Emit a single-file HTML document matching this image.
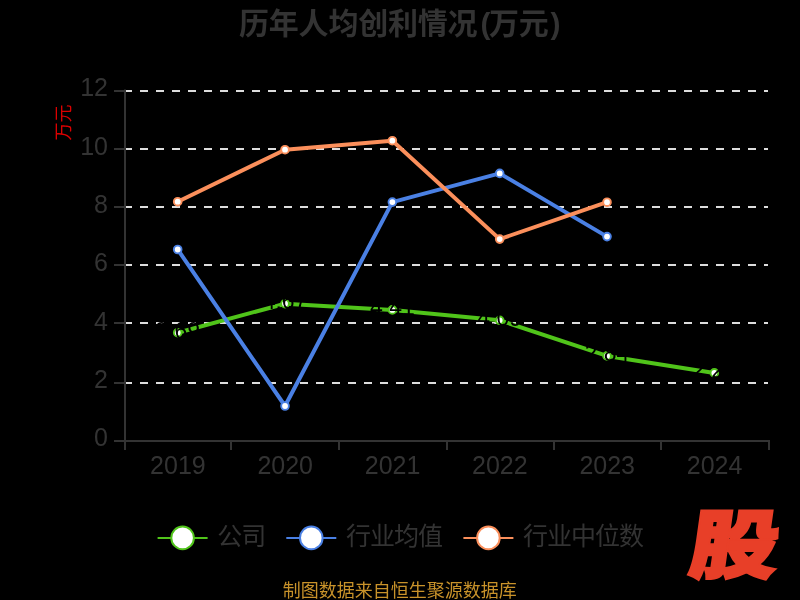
<!DOCTYPE html>
<html lang="zh-CN">
<head>
<meta charset="utf-8">
<title>历年人均创利情况(万元)</title>
<style>
html,body{margin:0;padding:0;background:#000;}
body{width:800px;height:600px;overflow:hidden;position:relative;font-family:"Liberation Sans","Noto Sans CJK SC",sans-serif;}
svg{position:absolute;left:0;top:0;display:block;}
text{font-family:"Liberation Sans","Noto Sans CJK SC",sans-serif;}
.title{font-size:30px;font-weight:bold;fill:#333;letter-spacing:-0.2px;}
.ax{font-size:25px;fill:#333;}
.lg{font-size:25px;letter-spacing:-1px;fill:#333;}
.unit{font-size:18px;fill:#dc0000;}
.foot{font-size:18px;fill:#c8922a;}
.dl{font-size:23px;fill:#000;}
.logo{font-family:"Noto Sans CJK SC","Liberation Sans",sans-serif;font-weight:900;font-size:74.5px;fill:#e83f28;stroke:#e83f28;stroke-width:3px;paint-order:stroke fill;stroke-linejoin:miter;}
</style>
</head>
<body>
<svg width="800" height="600" viewBox="0 0 800 600">
<rect x="0" y="0" width="800" height="600" fill="#000"/>
<text class="title" x="239" y="33.6" text-anchor="start">历年人均创利情况<tspan dx="3.2">(</tspan><tspan dx="-1.5">万元</tspan><tspan dx="2.1">)</tspan></text>
<line x1="124" y1="383" x2="768" y2="383" stroke="#dddddd" stroke-width="2" stroke-dasharray="8 8"/>
<line x1="124" y1="323" x2="768" y2="323" stroke="#dddddd" stroke-width="2" stroke-dasharray="8 8"/>
<line x1="124" y1="265" x2="768" y2="265" stroke="#dddddd" stroke-width="2" stroke-dasharray="8 8"/>
<line x1="124" y1="207" x2="768" y2="207" stroke="#dddddd" stroke-width="2" stroke-dasharray="8 8"/>
<line x1="124" y1="149" x2="768" y2="149" stroke="#dddddd" stroke-width="2" stroke-dasharray="8 8"/>
<line x1="124" y1="91" x2="768" y2="91" stroke="#dddddd" stroke-width="2" stroke-dasharray="8 8"/>
<line x1="125" y1="89.5" x2="125" y2="450" stroke="#333333" stroke-width="2"/>
<line x1="124" y1="441" x2="770" y2="441" stroke="#333333" stroke-width="2"/>
<line x1="114" y1="441" x2="125" y2="441" stroke="#333333" stroke-width="2"/>
<text class="ax" x="108" y="446.20" text-anchor="end">0</text>
<line x1="114" y1="383" x2="125" y2="383" stroke="#333333" stroke-width="2"/>
<text class="ax" x="108" y="387.87" text-anchor="end">2</text>
<line x1="114" y1="323" x2="125" y2="323" stroke="#333333" stroke-width="2"/>
<text class="ax" x="108" y="329.53" text-anchor="end">4</text>
<line x1="114" y1="265" x2="125" y2="265" stroke="#333333" stroke-width="2"/>
<text class="ax" x="108" y="271.20" text-anchor="end">6</text>
<line x1="114" y1="207" x2="125" y2="207" stroke="#333333" stroke-width="2"/>
<text class="ax" x="108" y="212.87" text-anchor="end">8</text>
<line x1="114" y1="149" x2="125" y2="149" stroke="#333333" stroke-width="2"/>
<text class="ax" x="108" y="154.53" text-anchor="end">10</text>
<line x1="114" y1="91" x2="125" y2="91" stroke="#333333" stroke-width="2"/>
<text class="ax" x="108" y="96.20" text-anchor="end">12</text>
<line x1="231" y1="441" x2="231" y2="450" stroke="#333333" stroke-width="2"/>
<line x1="339" y1="441" x2="339" y2="450" stroke="#333333" stroke-width="2"/>
<line x1="447" y1="441" x2="447" y2="450" stroke="#333333" stroke-width="2"/>
<line x1="554" y1="441" x2="554" y2="450" stroke="#333333" stroke-width="2"/>
<line x1="661" y1="441" x2="661" y2="450" stroke="#333333" stroke-width="2"/>
<line x1="769" y1="441" x2="769" y2="450" stroke="#333333" stroke-width="2"/>
<text class="ax" x="177.90" y="474.2" text-anchor="middle">2019</text>
<text class="ax" x="285.23" y="474.2" text-anchor="middle">2020</text>
<text class="ax" x="392.56" y="474.2" text-anchor="middle">2021</text>
<text class="ax" x="499.89" y="474.2" text-anchor="middle">2022</text>
<text class="ax" x="607.22" y="474.2" text-anchor="middle">2023</text>
<text class="ax" x="714.55" y="474.2" text-anchor="middle">2024</text>
<text class="unit" x="63.8" y="122.5" text-anchor="middle" dominant-baseline="central" transform="rotate(-90 63.8 122.5)">万元</text>
<polyline points="177.70,332.70 285.03,303.70 392.36,309.90 499.69,320.30 607.02,355.90 714.35,372.90" fill="none" stroke="#50c41a" stroke-width="4" stroke-linejoin="round" stroke-linecap="round"/>
<circle cx="177.70" cy="332.70" r="3.85" fill="#fff" stroke="#50c41a" stroke-width="1.9"/>
<circle cx="285.03" cy="303.70" r="3.85" fill="#fff" stroke="#50c41a" stroke-width="1.9"/>
<circle cx="392.36" cy="309.90" r="3.85" fill="#fff" stroke="#50c41a" stroke-width="1.9"/>
<circle cx="499.69" cy="320.30" r="3.85" fill="#fff" stroke="#50c41a" stroke-width="1.9"/>
<circle cx="607.02" cy="355.90" r="3.85" fill="#fff" stroke="#50c41a" stroke-width="1.9"/>
<circle cx="714.35" cy="372.90" r="3.85" fill="#fff" stroke="#50c41a" stroke-width="1.9"/>
<polyline points="177.70,249.50 285.03,406.00 392.36,202.10 499.69,173.40 607.02,236.60" fill="none" stroke="#4a80e4" stroke-width="4" stroke-linejoin="round" stroke-linecap="round"/>
<circle cx="177.70" cy="249.50" r="3.85" fill="#fff" stroke="#4a80e4" stroke-width="1.9"/>
<circle cx="285.03" cy="406.00" r="3.85" fill="#fff" stroke="#4a80e4" stroke-width="1.9"/>
<circle cx="392.36" cy="202.10" r="3.85" fill="#fff" stroke="#4a80e4" stroke-width="1.9"/>
<circle cx="499.69" cy="173.40" r="3.85" fill="#fff" stroke="#4a80e4" stroke-width="1.9"/>
<circle cx="607.02" cy="236.60" r="3.85" fill="#fff" stroke="#4a80e4" stroke-width="1.9"/>
<polyline points="177.70,201.70 285.03,149.70 392.36,140.70 499.69,239.10 607.02,202.20" fill="none" stroke="#fb8f5b" stroke-width="4" stroke-linejoin="round" stroke-linecap="round"/>
<circle cx="177.70" cy="201.70" r="3.85" fill="#fff" stroke="#fb8f5b" stroke-width="1.9"/>
<circle cx="285.03" cy="149.70" r="3.85" fill="#fff" stroke="#fb8f5b" stroke-width="1.9"/>
<circle cx="392.36" cy="140.70" r="3.85" fill="#fff" stroke="#fb8f5b" stroke-width="1.9"/>
<circle cx="499.69" cy="239.10" r="3.85" fill="#fff" stroke="#fb8f5b" stroke-width="1.9"/>
<circle cx="607.02" cy="202.20" r="3.85" fill="#fff" stroke="#fb8f5b" stroke-width="1.9"/>
<text class="dl" x="177.70" y="339.30" text-anchor="middle">3.69</text>
<text class="dl" x="285.03" y="309.10" text-anchor="middle">4.67</text>
<text class="dl" x="392.36" y="314.90" text-anchor="middle">4.41</text>
<text class="dl" x="499.69" y="325.70" text-anchor="middle">4.09</text>
<text class="dl" x="607.02" y="361.30" text-anchor="middle">2.84</text>
<text class="dl" x="714.35" y="378.30" text-anchor="middle">2.29</text>
<line x1="157.6" y1="537.9" x2="207.6" y2="537.9" stroke="#50c41a" stroke-width="2"/>
<circle cx="182.6" cy="537.9" r="11.3" fill="#fff" stroke="#50c41a" stroke-width="2"/>
<text class="lg" x="217.2" y="544.9">公司</text>
<line x1="286.3" y1="537.9" x2="336.3" y2="537.9" stroke="#4a80e4" stroke-width="2"/>
<circle cx="311.3" cy="537.9" r="11.3" fill="#fff" stroke="#4a80e4" stroke-width="2"/>
<text class="lg" x="345.9" y="544.9">行业均值</text>
<line x1="463.4" y1="537.9" x2="513.4" y2="537.9" stroke="#fb8f5b" stroke-width="2"/>
<circle cx="488.4" cy="537.9" r="11.3" fill="#fff" stroke="#fb8f5b" stroke-width="2"/>
<text class="lg" x="523.0" y="544.9">行业中位数</text>
<text class="foot" x="399.7" y="596.5" text-anchor="middle">制图数据来自恒生聚源数据库</text>
<defs><clipPath id="lc"><rect x="680" y="500" width="100.5" height="90"/></clipPath></defs>
<g clip-path="url(#lc)"><text class="logo" x="0" y="0" transform="translate(687.2 571.5) skewX(-8) scale(1.18 1)">股</text></g>
</svg>
</body>
</html>
